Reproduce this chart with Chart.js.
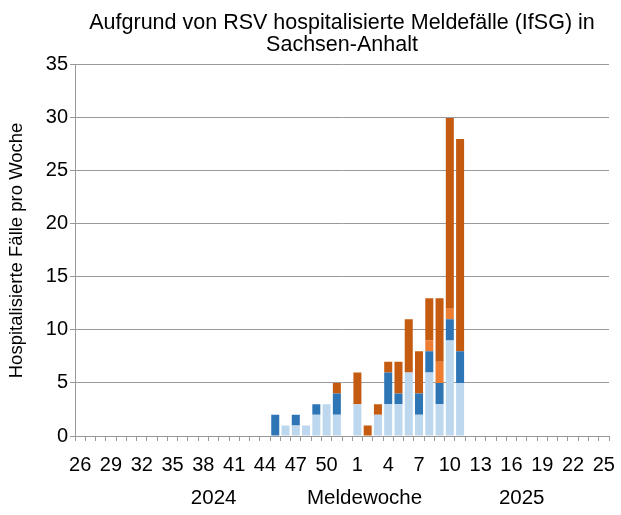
<!DOCTYPE html>
<html>
<head>
<meta charset="utf-8">
<script src="https://cdn.jsdelivr.net/npm/chart.js@4.4.0/dist/chart.umd.min.js"></script>
<style>
  html, body { margin: 0; padding: 0; background: #fff; }
  #wrap { width: 621px; height: 515px; }
</style>
</head>
<body>
<div id="wrap"><canvas id="grafik"></canvas></div>
<script>
// Meldewochen 26/2024 bis 25/2025
const wochen = ['26','27','28','29','30','31','32','33','34','35','36','37','38','39','40','41','42','43','44','45','46','47','48','49','50','51','52',
  '1','2','3','4','5','6','7','8','9','10','11','12','13','14','15','16','17','18','19','20','21','22','23','24','25'];

// Fälle je Gruppe (von unten nach oben gestapelt)
const gruppe1 = [0,0,0,0,0,0,0,0,0,0,0,0,0,0,0,0,0,0,0,0,1,1,1,2,3,2,0, 3,0,2,3,3,6,2,6,3,9,5,0,0,0,0,0,0,0,0,0,0,0,0,0,0];
const gruppe2 = [0,0,0,0,0,0,0,0,0,0,0,0,0,0,0,0,0,0,0,2,0,1,0,1,0,2,0, 0,0,0,3,1,0,2,2,2,2,3,0,0,0,0,0,0,0,0,0,0,0,0,0,0];
const gruppe3 = [0,0,0,0,0,0,0,0,0,0,0,0,0,0,0,0,0,0,0,0,0,0,0,0,0,0,0, 0,0,0,0,0,0,0,1,2,1,0,0,0,0,0,0,0,0,0,0,0,0,0,0,0];
const gruppe4 = [0,0,0,0,0,0,0,0,0,0,0,0,0,0,0,0,0,0,0,0,0,0,0,0,0,1,0, 3,1,1,1,3,5,4,4,6,18,20,0,0,0,0,0,0,0,0,0,0,0,0,0,0];

const jahre = ['2024', '2025'];
const schrift = "'Liberation Sans', Arial, sans-serif";

// Jahreszahlen und Achsentitel unter der x-Achse
const jahrPlugin = {
  id: 'jahre',
  afterDraw(chart) {
    const ctx = chart.ctx;
    const x = chart.scales.x;
    ctx.save();
    ctx.font = '20.5px ' + schrift;
    ctx.fillStyle = '#000';
    ctx.textAlign = 'center';
    ctx.textBaseline = 'middle';
    const y = 498;
    ctx.fillText(jahre[0], x.getPixelForValue(13), y);
    ctx.fillText('Meldewoche', x.getPixelForValue(27.7), y);
    ctx.fillText(jahre[1], x.getPixelForValue(43), y);
    ctx.restore();
  }
};

const ctx = document.getElementById('grafik').getContext('2d');
new Chart(ctx, {
  type: 'bar',
  data: {
    labels: wochen,
    datasets: [
      { label: 'Gruppe 1', data: gruppe1, backgroundColor: '#BDD7EE' },
      { label: 'Gruppe 2', data: gruppe2, backgroundColor: '#2E75B6' },
      { label: 'Gruppe 3', data: gruppe3, backgroundColor: '#ED7D31' },
      { label: 'Gruppe 4', data: gruppe4, backgroundColor: '#C55A11' }
    ]
  },
  options: {
    responsive: true,
    maintainAspectRatio: false,
    animation: false,
    layout: { padding: { left: 0, right: 12, top: 0, bottom: 0 } },
    datasets: {
      bar: { barPercentage: 0.78, categoryPercentage: 1.0 }
    },
    scales: {
      x: {
        stacked: true,
        afterFit(scale) {
          scale.height = 79;
          scale.paddingLeft = 0;
          scale.paddingRight = 0;
        },
        grid: {
          drawOnChartArea: false,
          drawTicks: true,
          tickLength: 5,
          color: '#999'
        },
        border: { color: '#999', width: 1 },
        ticks: {
          autoSkip: false,
          maxRotation: 0,
          minRotation: 0,
          padding: 12,
          color: '#000',
          font: { family: schrift, size: 20 },
          callback: function(value, index) {
            return index % 3 === 0 ? this.getLabelForValue(value) : '';
          }
        }
      },
      y: {
        stacked: true,
        min: 0,
        max: 35,
        afterFit(scale) { scale.width = 75; },
        grid: { color: '#999', tickLength: 5 },
        border: { color: '#999', width: 1 },
        ticks: {
          stepSize: 5,
          padding: 2,
          color: '#000',
          font: { family: schrift, size: 20 }
        },
        title: {
          display: true,
          text: 'Hospitalisierte Fälle pro Woche',
          color: '#000',
          font: { family: schrift, size: 18.5 },
          padding: { top: 6, bottom: 0 }
        }
      }
    },
    plugins: {
      legend: { display: false },
      tooltip: { enabled: false },
      title: {
        display: true,
        fullSize: false,
        text: ['Aufgrund von RSV hospitalisierte Meldefälle (IfSG) in', 'Sachsen-Anhalt'],
        color: '#000',
        font: { family: schrift, size: 21.5, weight: 'normal', lineHeight: 1.02 },
        padding: { top: 12, bottom: 9 }
      }
    }
  },
  plugins: [jahrPlugin]
});
</script>
</body>
</html>
